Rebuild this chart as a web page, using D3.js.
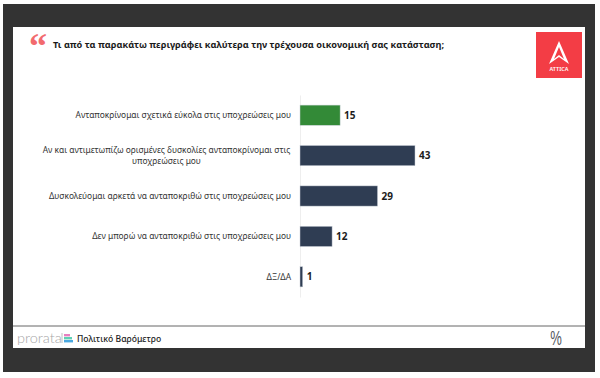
<!DOCTYPE html>
<html>
<head>
<meta charset="utf-8">
<script src="https://cdn.jsdelivr.net/npm/d3@7"></script>
<style>
  html, body { margin: 0; padding: 0; background: #fff; }
  text { font-family: "Noto Sans", "Open Sans", sans-serif; }
</style>
</head>
<body>
<div id="chart"></div>
<script>
const categories = [
  ["Ανταποκρίνομαι σχετικά εύκολα στις υποχρεώσεις μου"],
  ["Αν και αντιμετωπίζω ορισμένες δυσκολίες ανταποκρίνομαι στις", "υποχρεώσεις μου"],
  ["Δυσκολεύομαι αρκετά να ανταποκριθώ στις υποχρεώσεις μου"],
  ["Δεν μπορώ να ανταποκριθώ στις υποχρεώσεις μου"],
  ["ΔΞ/ΔΑ"],
];
const values = [15, 43, 29, 12, 1];
const barColors = ["#338a37", "#2f3d53", "#2f3d53", "#2f3d53", "#2f3d53"];
const title = "Τι από τα παρακάτω περιγράφει καλύτερα την τρέχουσα οικονομική σας κατάσταση;";

const width = 600, height = 378;
const svg = d3.select("#chart").append("svg")
  .attr("width", width).attr("height", height)
  .style("display", "block");

// frame + white panel
svg.append("rect").attr("x", 3).attr("y", 4).attr("width", 592).attr("height", 368).attr("fill", "#333333");
svg.append("rect").attr("x", 13).attr("y", 27).attr("width", 572).attr("height", 321).attr("fill", "#fff");
svg.append("line").attr("x1", 13).attr("x2", 585).attr("y1", 326).attr("y2", 326)
  .attr("stroke", "#666").attr("stroke-width", 1);

// title
svg.append("text").attr("x", 29).attr("y", 58)
  .style("font-family", "'Liberation Serif', serif")
  .attr("font-size", 36).attr("font-weight", 700).attr("fill", "#f26a6e")
  .text("“");
svg.append("text").attr("x", 53).attr("y", 47.5)
  .attr("font-size", 9.2).attr("font-weight", 700).attr("fill", "#1a1a1a")
  .text(title);

// logo
svg.append("rect").attr("x", 536).attr("y", 32).attr("width", 46).attr("height", 46).attr("fill", "#f33d45");
svg.append("path")
  .attr("d", "M559 41 L569 64 L559 57 L549 64 Z M559 47 L554 59 L559 55 L564 59 Z")
  .attr("fill", "#fff").attr("fill-rule", "evenodd");
svg.append("text").attr("x", 559).attr("y", 71).attr("text-anchor", "middle")
  .attr("font-size", 5.5).attr("font-weight", 600).attr("fill", "#fff").text("ATTICA");

// scales
const x = d3.scaleLinear().domain([0, 43]).range([300, 415]);
const y = d3.scaleBand().domain(d3.range(values.length)).range([95, 297]).paddingInner(0.5).paddingOuter(0.25);

// axis line
const yAxis = d3.axisLeft(y).tickSize(0).tickFormat("");
const axisG = svg.append("g").attr("transform", "translate(300,0)").call(yAxis);
axisG.select(".domain").attr("stroke", "#e6e6e6").attr("stroke-width", 0.7);

// bars
svg.selectAll(".bar").data(values).enter().append("rect")
  .attr("class", "bar")
  .attr("x", x(0))
  .attr("y", (d, i) => y(i))
  .attr("width", (d) => x(d) - x(0))
  .attr("height", y.bandwidth())
  .attr("fill", (d, i) => barColors[i])
  .attr("stroke", "#c9d0d8").attr("stroke-width", 0.5);

// value labels
svg.selectAll(".val").data(values).enter().append("text")
  .attr("class", "val")
  .attr("x", (d) => x(d) + 4)
  .attr("y", (d, i) => y(i) + y.bandwidth() / 2 + 3.5)
  .attr("font-size", 10).attr("font-weight", 700).attr("fill", "#1c1c1c")
  .text((d) => d);

// category labels
const labels = svg.selectAll(".cat").data(categories).enter().append("text")
  .attr("class", "cat")
  .attr("text-anchor", "middle")
  .attr("font-size", 8.4).attr("fill", "#333");
labels.each(function (lines, i) {
  const t = d3.select(this);
  const mid = y(i) + y.bandwidth() / 2;
  lines.forEach((l, k) => {
    const span = t.append("tspan").text(l)
      .attr("y", mid + 3 + (k - (lines.length - 1) / 2) * 11.5);
    if (lines.length > 1) span.attr("x", 166.5);
    else span.attr("x", 291).attr("text-anchor", "end");
  });
});

// footer
svg.append("text").attr("x", 17).attr("y", 343)
  .attr("font-size", 14.5).attr("fill", "#a6a6a6").style("font-family", "Lato, sans-serif").style("font-weight", 300)
  .text("prorata");
svg.append("line").attr("x1", 62).attr("x2", 62).attr("y1", 333).attr("y2", 343).attr("stroke", "#a6a6a6").attr("stroke-width", 0.7);
const footerBars = [[64, 334, 6, "#e87fc0"], [64, 337, 8, "#5fd0b5"], [64, 340, 9, "#4aa8e0"]];
svg.selectAll(".fb").data(footerBars).enter().append("rect")
  .attr("class", "fb")
  .attr("x", (d) => d[0]).attr("y", (d) => d[1]).attr("width", (d) => d[2]).attr("height", 2.4)
  .attr("fill", (d) => d[3]);
svg.append("text").attr("x", 77).attr("y", 342)
  .attr("font-size", 8.6).attr("font-weight", 500).attr("fill", "#222")
  .text("Πολιτικό Βαρόμετρο");

// narrow percent mark
svg.append("text").attr("transform", "translate(556,345) scale(0.62,1)").attr("text-anchor", "middle")
  .style("font-family", "'Liberation Sans', sans-serif")
  .attr("font-size", 21).attr("fill", "#55595f").attr("font-weight", 400).text("%");
</script>
</body>
</html>
